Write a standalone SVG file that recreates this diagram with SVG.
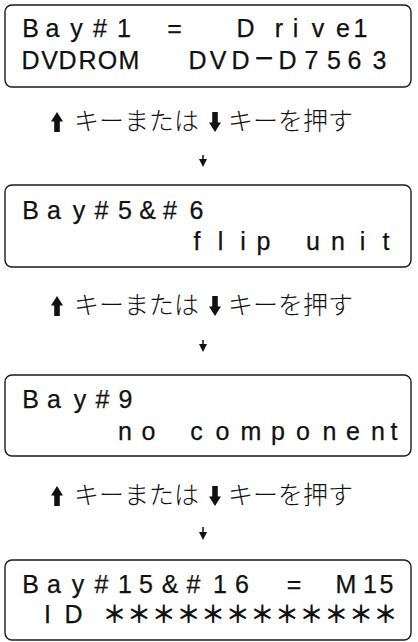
<svg xmlns="http://www.w3.org/2000/svg" width="418" height="642" viewBox="0 0 418 642">
<style>
.box{fill:#fff;stroke:#1a1a1a;stroke-width:1.4}
.lcd{font-family:"Liberation Sans","Noto Sans CJK JP",sans-serif;font-size:25px;fill:#111;stroke:#111;stroke-width:0.25;text-anchor:middle}
.jp{font-family:"Noto Sans CJK JP",sans-serif;font-size:25px;font-weight:300;fill:#111}
.big{fill:#111}
.ast{font-family:"Noto Sans CJK JP",sans-serif;font-weight:700;font-size:24px;stroke-width:0}
.thin{stroke:#111;stroke-width:1.5;fill:none}
</style>
<defs>
<path id="up" d="M0,-10 L6,-0.5 L2.8,-0.5 L2.8,10 L-2.8,10 L-2.8,-0.5 L-6,-0.5 Z"/>
<path id="dn" d="M0,10 L6,0.5 L2.8,0.5 L2.8,-10 L-2.8,-10 L-2.8,0.5 L-6,0.5 Z"/>
<marker id="ah" markerWidth="8" markerHeight="8" refX="4" refY="4" orient="auto" markerUnits="userSpaceOnUse"><path d="M0,0 L8,4 L0,8 Z" fill="#111"/></marker>
</defs>
<rect width="418" height="642" fill="#fff"/>

<g id="node1">
<rect class="box" x="5" y="5" width="406" height="82" rx="7"/>
<text class="lcd" y="37" x="30.5 52.5 76.5 100 124 150 174.5 210 245.5 279 295.5 318 343 360.5">Bay#1 = Drive1</text>
<text class="lcd" y="69" x="30.5 49.5 67.5 87.5 107.5 129 163 197.5 218 240.5 264 287.5 311.5 334 354.5 379.5">DVDROM DVD<tspan style="font-size:32px">−</tspan>D7563</text>
</g>

<g id="label1">
<use href="#up" class="big" x="57" y="122"/>
<text class="jp" x="74" y="130">キーまたは</text>
<use href="#dn" class="big" x="215" y="122"/>
<text class="jp" x="228" y="130">キーを押す</text>
</g>

<g id="node2">
<rect class="box" x="5" y="185" width="406" height="82" rx="7"/>
<text class="lcd" y="219" x="30.5 54 79 101.5 125 147.5 170 196.5">Bay#5&amp;#6</text>
<text class="lcd" y="250" x="197 220.5 243 263.5 288 313 338 362.5 386">flip unit</text>
</g>

<g id="label2">
<use href="#up" class="big" x="57" y="306"/>
<text class="jp" x="74" y="314">キーまたは</text>
<use href="#dn" class="big" x="215" y="306"/>
<text class="jp" x="228" y="314">キーを押す</text>
</g>

<g id="node3">
<rect class="box" x="5" y="375" width="406" height="81" rx="7"/>
<text class="lcd" y="408" x="30.5 54 80 102.5 125.5">Bay#9</text>
<text class="lcd" y="440" x="125 148.5 172 196.5 222.5 251 278 303 329.5 353 378 394">no component</text>
</g>

<g id="label3">
<use href="#up" class="big" x="57" y="496"/>
<text class="jp" x="74" y="504">キーまたは</text>
<use href="#dn" class="big" x="215" y="496"/>
<text class="jp" x="228" y="504">キーを押す</text>
</g>

<g id="node4">
<rect class="box" x="5" y="560" width="406" height="80" rx="7"/>
<text class="lcd" y="593" x="30.5 54 78 101.5 125 146 170 193.5 220 242 268 294 320 346 370 386.5">Bay#15&amp;#16 = M15</text>
<text class="lcd" y="623" x="47.5 73.5 94 114.5 139.1 163.8 188.4 213.1 237.7 262.3 287 311.6 336.3 360.9 385.5">ID <tspan class="ast">＊＊＊＊＊＊＊＊＊＊＊＊</tspan></text>
</g>

<g id="connectors">
<line class="thin" x1="203" y1="155" x2="203" y2="163" marker-end="url(#ah)"/>
<line class="thin" x1="203" y1="340" x2="203" y2="348" marker-end="url(#ah)"/>
<line class="thin" x1="203" y1="527" x2="203" y2="536" marker-end="url(#ah)"/>
</g>
</svg>
